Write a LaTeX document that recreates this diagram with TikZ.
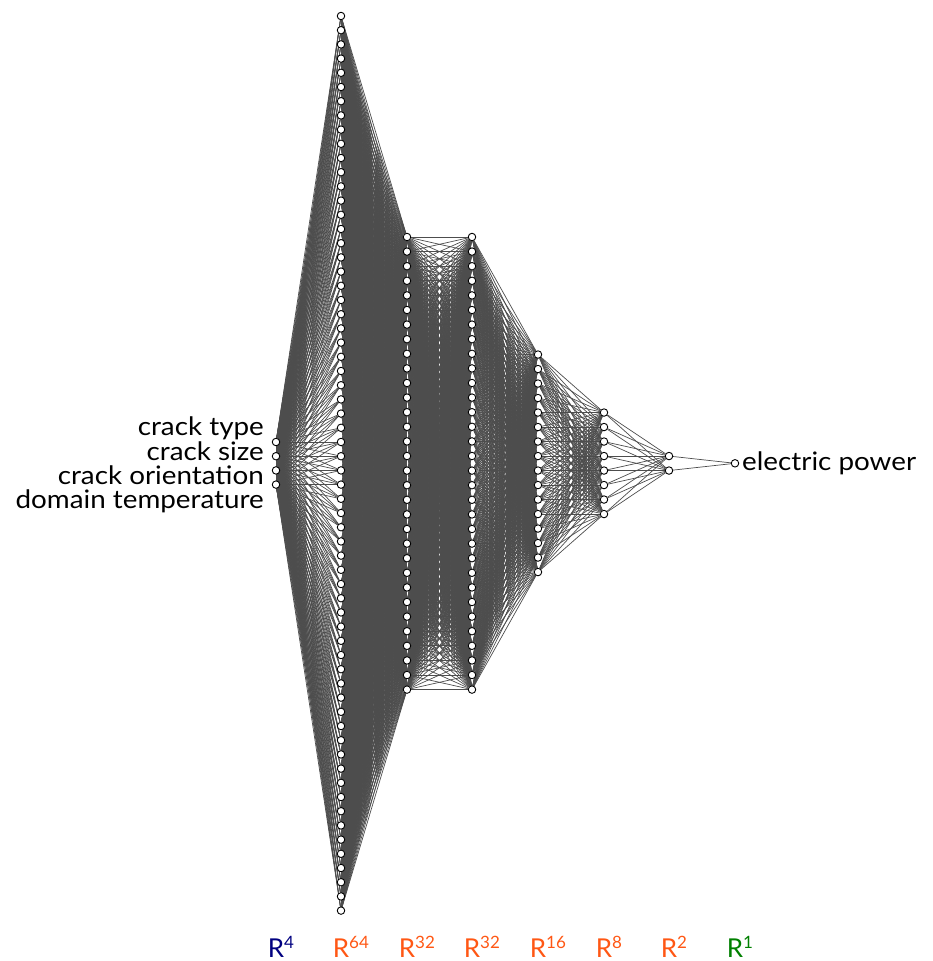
\documentclass[tikz,border=0pt]{standalone}
\usepackage{fontspec}
\setmainfont{Lato}
\usetikzlibrary{backgrounds}
\definecolor{edgec}{RGB}{77,77,77}
\definecolor{inc}{RGB}{0,0,128}
\definecolor{hidc}{RGB}{255,87,20}
\definecolor{outc}{RGB}{0,128,0}
\newcommand\dimsup[1]{\rlap{\raisebox{9pt}{\fontsize{17}{17}\selectfont #1}}}
\newcommand\wide[1]{\scalebox{1.09}[1]{#1}}
\begin{document}
\begin{tikzpicture}[x=1pt,y=-1pt,
  neuron/.style={circle,draw=black,fill=white,line width=0.9pt,minimum size=7.5pt,inner sep=0pt},
  conn/.style={draw=edgec,line width=0.7pt},
  txt/.style={font=\fontsize{25.5}{25.5}\selectfont,inner sep=0pt,text height=17pt,text depth=5pt},
  dimlab/.style={font=\fontsize{26}{26}\selectfont,inner sep=0pt,anchor=base,text depth=0pt}]
\useasboundingbox (0,0) rectangle (933,961);
\def\cy{463.3}
\foreach \l/\x/\n/\d in {1/276/4/14.2, 2/341/64/14.2, 3/407/32/14.6, 4/472/32/14.6, 5/538/16/14.5, 6/604/8/14.5, 7/669/2/14.5, 8/735/1/14.5}{
  \foreach \i in {1,...,\n}{
    \node[neuron] (n\l-\i) at (\x, {\cy+(\i-(\n+1)/2)*\d}) {};
  }
}
\begin{scope}[on background layer]
\foreach \a/\na/\b/\nb in {1/4/2/64, 2/64/3/32, 3/32/4/32, 4/32/5/16, 5/16/6/8, 6/8/7/2, 7/2/8/1}{
  \foreach \i in {1,...,\na}{
    \foreach \j in {1,...,\nb}{
      \draw[conn] (n\a-\i) -- (n\b-\j);
    }
  }
}
\end{scope}
\node[txt,anchor=base east] (lt) at (264,435.7) {\wide{crack type}};
\node[txt,anchor=base east] (ls) at (264,460) {\wide{crack size}};
\node[txt,anchor=base east] (lor) at (264,484.3) {\wide{crack orientation}};
\node[txt,anchor=base east] (ld) at (264,508.5) {\wide{domain temperature}};
\node[txt,anchor=base west] (lp) at (742,470) {\wide{electric power}};
\node[dimlab,text=inc] (d1) at (276,957) {R\dimsup{4}};
\node[dimlab,text=hidc] (d2) at (341,957) {R\dimsup{64}};
\node[dimlab,text=hidc] (d3) at (407,957) {R\dimsup{32}};
\node[dimlab,text=hidc] (d4) at (472,957) {R\dimsup{32}};
\node[dimlab,text=hidc] (d5) at (538,957) {R\dimsup{16}};
\node[dimlab,text=hidc] (d6) at (604,957) {R\dimsup{8}};
\node[dimlab,text=hidc] (d7) at (669,957) {R\dimsup{2}};
\node[dimlab,text=outc] (d8) at (735,957) {R\dimsup{1}};
\end{tikzpicture}
\end{document}
